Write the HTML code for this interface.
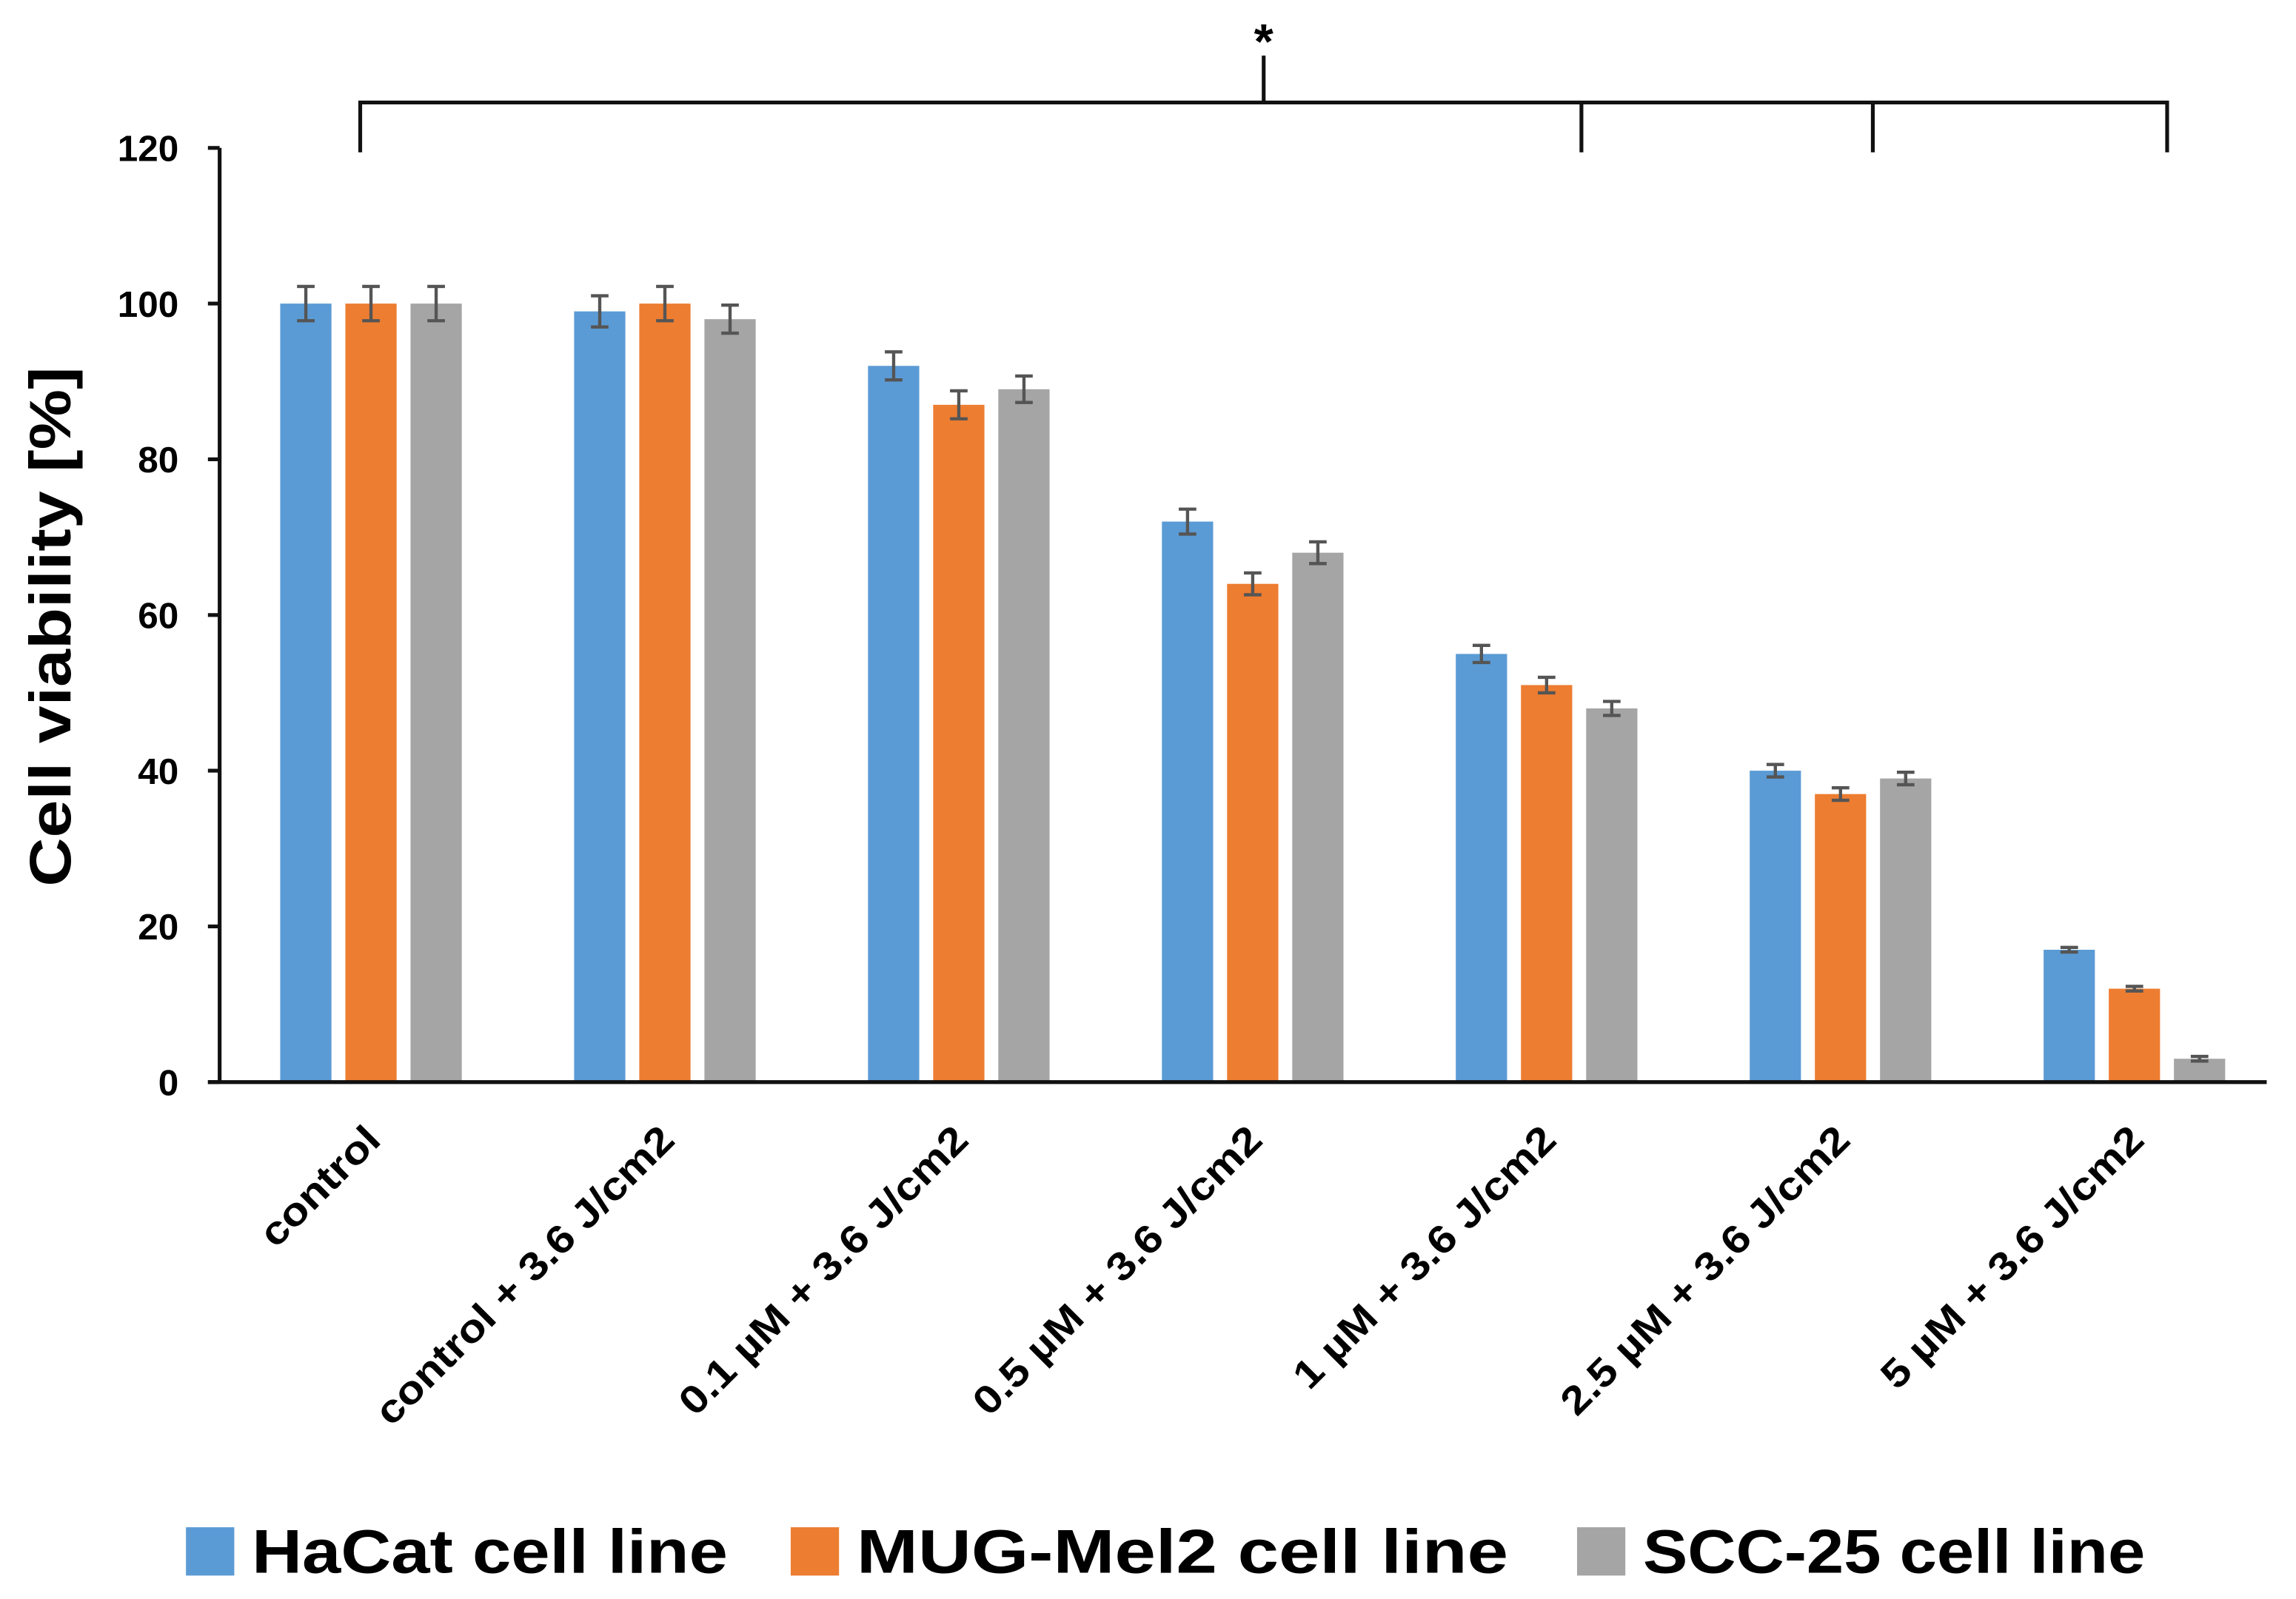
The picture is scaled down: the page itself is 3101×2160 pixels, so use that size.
<!DOCTYPE html>
<html><head><meta charset="utf-8"><style>
html,body{margin:0;padding:0;background:#fff;}
svg{display:block;}
text{font-family:"Liberation Sans",Arial,sans-serif;font-weight:bold;fill:#000;}
</style></head><body>
<svg id="chart" width="3101" height="2160" viewBox="0 0 1568 1092" preserveAspectRatio="none" xmlns="http://www.w3.org/2000/svg">
<g id="bracket" stroke="#111" stroke-width="2.6" fill="none">
<path d="M246,104 V70 H1480 V104 M863,70 V38 M1080,70 V104 M1279,70 V104"/>
</g>
<text x="863" y="40" font-size="34" text-anchor="middle">*</text>
<g id="plot"></g>
<text transform="translate(48,428) rotate(-90)" font-size="40" text-anchor="middle" textLength="355" lengthAdjust="spacingAndGlyphs">Cell viability [%]</text>
<g id="legend"></g>
</svg>
<script>
const categories=["control","control + 3.6 J/cm2","0.1 µM + 3.6 J/cm2","0.5 µM + 3.6 J/cm2","1 µM + 3.6 J/cm2","2.5 µM + 3.6 J/cm2","5 µM + 3.6 J/cm2"];
const seriesNames=["HaCat cell line","MUG-Mel2 cell line","SCC-25 cell line"];
const hacat=[100,99,92,72,55,40,17];
const mel2=[100,100,87,64,51,37,12];
const scc=[100,98,89,68,48,39,3];
const hacatErr=[2.2,2,1.8,1.6,1.1,0.8,0.3];
const mel2Err=[2.2,2.2,1.8,1.4,1,0.8,0.3];
const sccErr=[2.2,1.8,1.7,1.4,0.9,0.8,0.3];
const yTicks=[0,20,40,60,80,100,120];
const colors=["#5B9BD5","#ED7D31","#A5A5A5"];
const NS="http://www.w3.org/2000/svg";
const x0=150,x1=1555,yTop=101,yBot=739,yMax=120;
const y=v=>yBot-(v/yMax)*(yBot-yTop);
const bw=(x1-x0)/categories.length;
const cx=i=>x0+bw*(i+0.5)+3;
const barW=35,step=44.5;
const plot=document.getElementById('plot');
function mk(tag,attrs,parent){const e=document.createElementNS(NS,tag);for(const k in attrs)e.setAttribute(k,attrs[k]);(parent||plot).appendChild(e);return e;}
const data=[hacat,mel2,scc],errs=[hacatErr,mel2Err,sccErr];
data.forEach((vals,s)=>{vals.forEach((v,i)=>{
  const bx=cx(i)+(s-1)*step-barW/2;
  const r=mk('rect',{x:bx,y:y(v),width:barW,height:yBot-y(v),fill:colors[s]});
  
  
  const e=errs[s][i],mx=bx+barW/2;
  const eb=mk('path',{d:`M${mx},${y(v+e)}V${y(v-e)}M${mx-6},${y(v+e)}H${mx+6}M${mx-6},${y(v-e)}H${mx+6}`,stroke:'#555','stroke-width':2.2,fill:'none'});
  
  
});});
const ax=mk('path',{d:`M${x0},${yTop}V${yBot}M142,${yBot}H1548`,stroke:'#111','stroke-width':2.6,fill:'none'});


yTicks.forEach(t=>{
  const tk=mk('path',{d:`M142,${y(t)}H${x0}`,stroke:'#111','stroke-width':2.6});
  
  
  const tx=mk('text',{x:122,y:y(t)+9,'font-size':25,'text-anchor':'end'});
  tx.textContent=t;
  
  
});
categories.forEach((c,i)=>{
  const tx=mk('text',{transform:`translate(${cx(i)+8},${780}) rotate(-45)`,'font-size':27,'text-anchor':'end'});
  tx.textContent=c;
  
  
  const L=tx.getComputedTextLength();
  tx.setAttribute('textLength',L*1.13);
  tx.setAttribute('lengthAdjust','spacingAndGlyphs');
});
const lg=document.getElementById('legend');
const lx=[127,540,1077];
const lw=[325,445,343];
seriesNames.forEach((n,s)=>{
  const r=mk('rect',{x:lx[s],y:1043,width:33,height:33,fill:colors[s]},lg);
  
  
  const t=mk('text',{x:lx[s]+45,y:1074,'font-size':42,textLength:lw[s],lengthAdjust:'spacingAndGlyphs'},lg);
  t.textContent=n;
  
  
});
</script>
</body></html>
